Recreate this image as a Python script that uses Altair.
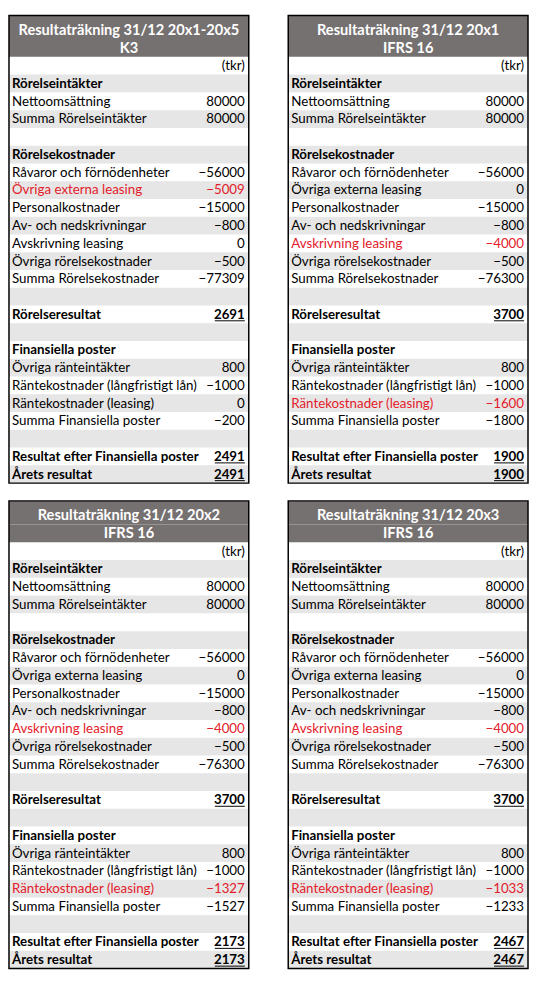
import altair as alt
import pandas as pd

# ---------------- data ----------------
labels = [
    "", "Rörelseintäkter", "Nettoomsättning", "Summa Rörelseintäkter", "",
    "Rörelsekostnader", "Råvaror och förnödenheter", "Övriga externa leasing",
    "Personalkostnader", "Av- och nedskrivningar", "Avskrivning leasing",
    "Övriga rörelsekostnader", "Summa Rörelsekostnader", "", "Rörelseresultat", "",
    "Finansiella poster", "Övriga ränteintäkter", "Räntekostnader (långfristigt lån)",
    "Räntekostnader (leasing)", "Summa Finansiella poster", "",
    "Resultat efter Finansiella poster", "Årets resultat",
]
bold_rows = [1, 5, 14, 16, 22, 23]
underline_rows = [14, 22, 23]

titles = [
    "Resultaträkning 31/12 20x1-20x5",
    "Resultaträkning 31/12 20x1",
    "Resultaträkning 31/12 20x2",
    "Resultaträkning 31/12 20x3",
]
subtitles = ["K3", "IFRS 16", "IFRS 16", "IFRS 16"]

# values per panel (None = empty cell)
values_k3 = [None, None, 80000, 80000, None, None, -56000, -5009, -15000, -800, 0,
             -500, -77309, None, 2691, None, None, 800, -1000, 0, -200, None, 2491, 2491]
values_20x1 = [None, None, 80000, 80000, None, None, -56000, 0, -15000, -800, -4000,
               -500, -76300, None, 3700, None, None, 800, -1000, -1600, -1800, None, 1900, 1900]
values_20x2 = [None, None, 80000, 80000, None, None, -56000, 0, -15000, -800, -4000,
               -500, -76300, None, 3700, None, None, 800, -1000, -1327, -1527, None, 2173, 2173]
values_20x3 = [None, None, 80000, 80000, None, None, -56000, 0, -15000, -800, -4000,
               -500, -76300, None, 3700, None, None, 800, -1000, -1033, -1233, None, 2467, 2467]
panel_values = [values_k3, values_20x1, values_20x2, values_20x3]
red_rows = [[7], [10, 19], [10, 19], [10, 19]]

# ---------------- style / layout ----------------
FONT = "Lato"
W, H = 243, 474
HEAD1, HEAD2, ROW = 24, 18, 18
HEADER_BG = "#767171"
SHADE = "#e7e6e6"
RED = "#e3202a"
FS = 13.5
DIGIT_W = 7.6

xs = alt.Scale(domain=[0, W], nice=False, zero=False)
ys = alt.Scale(domain=[0, H], nice=False, zero=False, reverse=True)


def fmt(v):
    if v is None:
        return ""
    return ("−" + str(-v)) if v < 0 else str(v)


def panel(title, sub, vals, reds):
    rows = []
    for i, lab in enumerate(labels):
        top = HEAD1 + HEAD2 + ROW * i
        bot = top + ROW
        val = "(tkr)" if i == 0 else fmt(vals[i])
        rows.append(dict(
            row=i, top=top, bot=bot, base=bot - 4.5,
            label=lab, value=val,
            bold=i in bold_rows, vbold=i in underline_rows,
            shade=(i % 2 == 1),
            color=RED if i in reds else "black",
            lx=3, vx=W - 4,
            ux1=W - 4 - DIGIT_W * len(val), ux2=W - 4, uy=bot - 2.5,
        ))
    df = pd.DataFrame(rows)
    head = pd.DataFrame([
        dict(text=title, top=0, bot=HEAD1, base=HEAD1 - 4.5, cx=W / 2),
        dict(text=sub, top=HEAD1, bot=HEAD1 + HEAD2, base=HEAD1 + HEAD2 - 4, cx=W / 2),
    ])

    X = lambda f: alt.X(f"{f}:Q", scale=xs, axis=None)
    Y = lambda f: alt.Y(f"{f}:Q", scale=ys, axis=None)

    shade = alt.Chart(df[df.shade]).mark_rect(fill=SHADE).encode(
        x=alt.value(0), x2=alt.value(W), y=Y("top"), y2=alt.Y2("bot"))
    hbg = alt.Chart(head).mark_rect(fill=HEADER_BG).encode(
        x=alt.value(0), x2=alt.value(W), y=Y("top"), y2=alt.Y2("bot"))
    htxt = alt.Chart(head).mark_text(
        font=FONT, fontSize=14.8, fontWeight="bold", color="white",
        align="center", baseline="alphabetic").encode(
        x=X("cx"), y=Y("base"), text="text:N")

    lab_n = alt.Chart(df[~df.bold]).mark_text(
        font=FONT, fontSize=FS, align="left", baseline="alphabetic").encode(
        x=X("lx"), y=Y("base"), text="label:N",
        color=alt.Color("color:N", scale=None))
    lab_b = alt.Chart(df[df.bold]).mark_text(
        font=FONT, fontSize=FS, fontWeight="bold", align="left", baseline="alphabetic").encode(
        x=X("lx"), y=Y("base"), text="label:N",
        color=alt.Color("color:N", scale=None))
    val_n = alt.Chart(df[~df.vbold]).mark_text(
        font=FONT, fontSize=FS, align="right", baseline="alphabetic").encode(
        x=X("vx"), y=Y("base"), text="value:N",
        color=alt.Color("color:N", scale=None))
    val_b = alt.Chart(df[df.vbold]).mark_text(
        font=FONT, fontSize=FS, fontWeight="bold", align="right", baseline="alphabetic").encode(
        x=X("vx"), y=Y("base"), text="value:N",
        color=alt.Color("color:N", scale=None))
    uline = alt.Chart(df[df.vbold]).mark_rule(color="black", strokeWidth=1).encode(
        x=X("ux1"), x2=alt.X2("ux2"), y=Y("uy"))
    border = alt.Chart(head.iloc[:1]).mark_rect(
        fill=None, stroke="black", strokeWidth=1.5).encode(
        x=alt.value(0), x2=alt.value(W), y=alt.value(0), y2=alt.value(H))

    return alt.layer(shade, hbg, htxt, lab_n, lab_b, val_n, val_b, uline, border).properties(
        width=W, height=H)


panels = [panel(titles[k], subtitles[k], panel_values[k], red_rows[k]) for k in range(4)]

chart = alt.vconcat(
    alt.hconcat(panels[0], panels[1], spacing=38),
    alt.hconcat(panels[2], panels[3], spacing=38),
    spacing=16,
).configure_view(stroke=None).properties(padding=0, background="white")

chart.save("out.html", embed_options={"renderer": "svg", "actions": False})
